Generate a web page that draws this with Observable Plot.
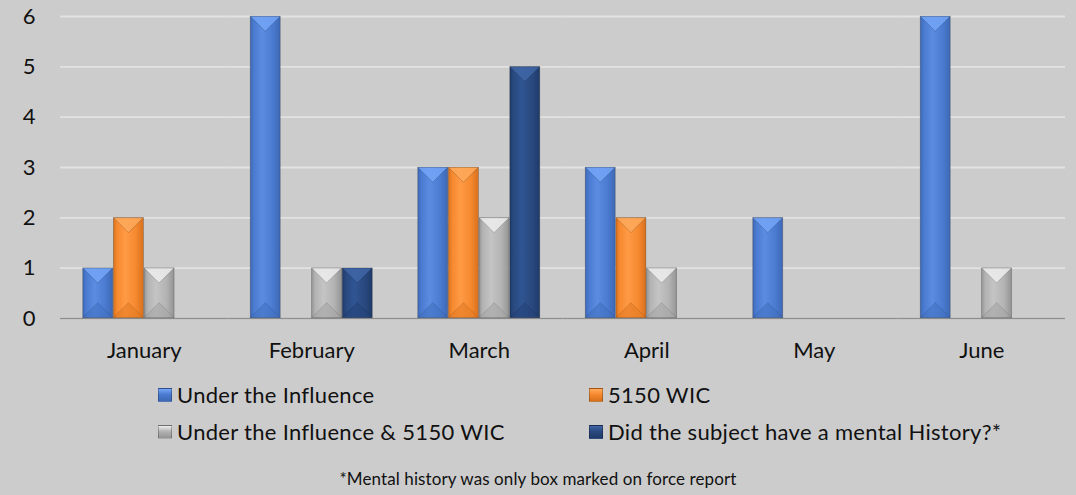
<!DOCTYPE html>
<html>
<head>
<meta charset="utf-8">
<script src="https://cdn.jsdelivr.net/npm/d3@7"></script>
<script src="https://cdn.jsdelivr.net/npm/@observablehq/plot@0.6"></script>
<style>
  html, body { margin: 0; padding: 0; background: #cccccc; }
  #wrap { position: relative; width: 1076px; height: 495px; background: #cccccc; overflow: hidden; font-family: Lato, "Open Sans", sans-serif; color: #111; }
  #chart { position: absolute; left: 0; top: 0; }
  .leg { position: absolute; font-size: 22px; line-height: 22px; display: flex; align-items: center; white-space: nowrap; letter-spacing: 0.3px; }
  .sw { width: 14px; height: 14px; margin-right: 5px; box-sizing: border-box; border: 1px solid rgba(0,0,0,0.25); }
  #caption { position: absolute; left: 0; width: 1076px; top: 468px; text-align: center; font-size: 17px; line-height: 22px; letter-spacing: 0.1px; }
</style>
</head>
<body>
<div id="wrap">
  <div id="chart"></div>
  <div id="legend"></div>
  <div id="caption"></div>
</div>
<script>
// ---- data ----
const months = ["January", "February", "March", "April", "May", "June"];
const seriesNames = ["Under the Influence", "5150 WIC", "Under the Influence & 5150 WIC", "Did the subject have a mental History?*"];
const underInfluence = [1, 6, 3, 3, 2, 6];
const wic5150 = [2, 0, 3, 2, 0, 0];
const underInfluenceAndWic = [1, 1, 2, 1, 0, 1];
const mentalHistory = [0, 1, 5, 0, 0, 0];
const yTicks = [0, 1, 2, 3, 4, 5, 6];
const captionText = "*Mental history was only box marked on force report";

// ---- styles ----
const seriesColors = ["#4a7bd1", "#f5892f", "#b3b3b3", "#29497f"];
const shades = {
  "#4a7bd1": {dark: "#3e68b4", light: "#5a8ce2", top: "#74a5f7", bottom: "#4372c2"},
  "#f5892f": {dark: "#d8701c", light: "#ff9a45", top: "#ffaa5c", bottom: "#e57c25"},
  "#b3b3b3": {dark: "#949494", light: "#c4c4c4", top: "#eeeeee", bottom: "#a6a6a6"},
  "#29497f": {dark: "#1f3a68", light: "#2f5592", top: "#4066a6", bottom: "#25437a"}
};

const allValues = [underInfluence, wic5150, underInfluenceAndWic, mentalHistory];
const rows = [];
months.forEach((m, i) => {
  seriesNames.forEach((s, j) => {
    rows.push({month: m, series: s, value: allValues[j][i]});
  });
});
const barRows = rows.filter(d => d.value > 0);

const plot = Plot.plot({
  width: 1076,
  height: 370,
  marginLeft: 60,
  marginRight: 11,
  marginTop: 16,
  marginBottom: 52,
  style: {background: "transparent", fontFamily: "Lato, 'Open Sans', sans-serif", fontSize: "22px", color: "#111"},
  fx: {domain: months, padding: 0, round: false, axis: "bottom", label: null, tickSize: 0, tickPadding: 24},
  x: {domain: seriesNames, paddingInner: 0, paddingOuter: 0.73, round: false, axis: null},
  y: {domain: [0, 6], ticks: yTicks, label: null, tickSize: 0, tickPadding: 25, tickFormat: d3.format("d")},
  color: {domain: seriesNames, range: seriesColors},
  marks: [
    Plot.gridY(yTicks, {stroke: "#e2e2e2", strokeWidth: 1.8, strokeOpacity: 1}),
    Plot.ruleY([0], {stroke: "#8e8e8e", strokeWidth: 1.5}),
    Plot.barY(barRows, {fx: "month", x: "series", y: "value", fill: "series", inset: 0.35, stroke: "rgba(0,0,0,0.25)", strokeWidth: 0.8})
  ]
});
document.getElementById("chart").appendChild(plot);

// ---- bevel styling applied to rendered bars ----
const NS = "http://www.w3.org/2000/svg";
const svg = plot.tagName.toLowerCase() === "svg" ? plot : plot.querySelector("svg");
const defs = document.createElementNS(NS, "defs");
svg.insertBefore(defs, svg.firstChild);
seriesColors.forEach((c, i) => {
  const sh = shades[c];
  const g = document.createElementNS(NS, "linearGradient");
  g.setAttribute("id", "grad" + i);
  g.setAttribute("x1", "0"); g.setAttribute("x2", "1"); g.setAttribute("y1", "0"); g.setAttribute("y2", "0");
  [[0, sh.dark], [0.12, c], [0.4, sh.light], [0.75, c], [1, sh.dark]].forEach(([o, col]) => {
    const st = document.createElementNS(NS, "stop");
    st.setAttribute("offset", o);
    st.setAttribute("stop-color", col);
    g.appendChild(st);
  });
  defs.appendChild(g);
});
svg.querySelectorAll('g[aria-label="bar"] rect').forEach(r => {
  const fill = r.getAttribute("fill");
  const idx = seriesColors.indexOf(fill);
  if (idx < 0) return;
  const sh = shades[fill];
  r.setAttribute("fill", `url(#grad${idx})`);
  const x = +r.getAttribute("x"), y = +r.getAttribute("y"), w = +r.getAttribute("width"), h = +r.getAttribute("height");
  const d = Math.min(w / 2, h / 2);
  const top = document.createElementNS(NS, "polygon");
  top.setAttribute("points", `${x},${y} ${x + w},${y} ${x + w / 2},${y + d}`);
  top.setAttribute("fill", sh.top);
  top.setAttribute("opacity", "0.85");
  const bot = document.createElementNS(NS, "polygon");
  bot.setAttribute("points", `${x},${y + h} ${x + w},${y + h} ${x + w / 2},${y + h - d}`);
  bot.setAttribute("fill", sh.bottom);
  bot.setAttribute("opacity", "0.6");
  r.after(bot);
  r.after(top);
});

// ---- legend ----
const legend = document.getElementById("legend");
const legendPos = [[158, 395], [589, 395], [158, 432], [589, 432]];
seriesNames.forEach((s, i) => {
  const c = seriesColors[i], sh = shades[c];
  const item = document.createElement("div");
  item.className = "leg";
  item.style.left = legendPos[i][0] + "px";
  item.style.top = (legendPos[i][1] - 11) + "px";
  const sw = document.createElement("div");
  sw.className = "sw";
  sw.style.background = `linear-gradient(to bottom, ${sh.top}, ${c} 45%, ${sh.dark})`;
  const t = document.createElement("span");
  t.textContent = s;
  item.appendChild(sw);
  item.appendChild(t);
  legend.appendChild(item);
});
document.getElementById("caption").textContent = captionText;
</script>
</body>
</html>
